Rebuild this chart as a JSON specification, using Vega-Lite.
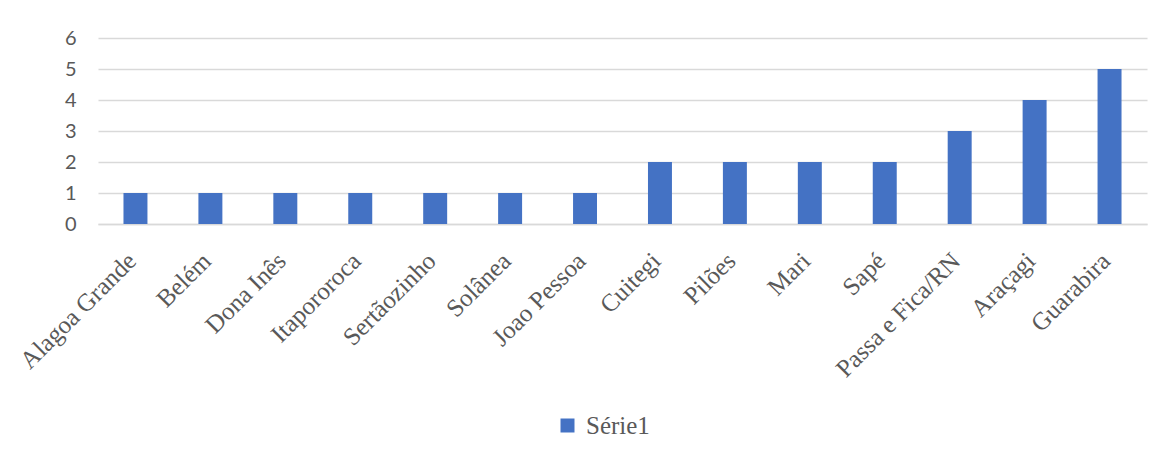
{
  "$schema": "https://vega.github.io/schema/vega-lite/v6.json",
  "width": 1049,
  "height": 186,
  "autosize": {"type": "none"},
  "padding": {"left": 98, "top": 38, "right": 21, "bottom": 233},
  "background": "white",
  "data": {
    "values": [
      {"municipio": "Alagoa Grande", "valor": 1, "serie": "Série1"},
      {"municipio": "Belém", "valor": 1, "serie": "Série1"},
      {"municipio": "Dona Inês", "valor": 1, "serie": "Série1"},
      {"municipio": "Itapororoca", "valor": 1, "serie": "Série1"},
      {"municipio": "Sertãozinho", "valor": 1, "serie": "Série1"},
      {"municipio": "Solânea", "valor": 1, "serie": "Série1"},
      {"municipio": "Joao Pessoa", "valor": 1, "serie": "Série1"},
      {"municipio": "Cuitegi", "valor": 2, "serie": "Série1"},
      {"municipio": "Pilões", "valor": 2, "serie": "Série1"},
      {"municipio": "Mari", "valor": 2, "serie": "Série1"},
      {"municipio": "Sapé", "valor": 2, "serie": "Série1"},
      {"municipio": "Passa e Fica/RN", "valor": 3, "serie": "Série1"},
      {"municipio": "Araçagi", "valor": 4, "serie": "Série1"},
      {"municipio": "Guarabira", "valor": 5, "serie": "Série1"}
    ]
  },
  "mark": {"type": "bar"},
  "encoding": {
    "x": {
      "field": "municipio",
      "type": "nominal",
      "sort": null,
      "title": null,
      "scale": {"paddingInner": 0.68, "paddingOuter": 0.34},
      "axis": {
        "labelAngle": -45,
        "labelFont": "Liberation Serif",
        "labelFontSize": 25,
        "labelColor": "#595959",
        "labelPadding": 24,
        "labelOffset": -12,
        "ticks": false,
        "domainColor": "#d9d9d9",
        "domainWidth": 1.5,
        "grid": false
      }
    },
    "y": {
      "field": "valor",
      "type": "quantitative",
      "title": null,
      "scale": {"domain": [0, 6], "nice": false},
      "axis": {
        "values": [0, 1, 2, 3, 4, 5, 6],
        "labelFont": "Lato",
        "labelFontSize": 20,
        "labelColor": "#595959",
        "labelPadding": 22,
        "ticks": false,
        "domain": false,
        "gridColor": "#d9d9d9",
        "gridWidth": 1.5
      }
    },
    "color": {
      "field": "serie",
      "type": "nominal",
      "scale": {"range": ["#4472C4"]},
      "legend": {
        "title": null,
        "orient": "none",
        "legendX": 457,
        "legendY": 375,
        "padding": 0,
        "symbolType": "square",
        "symbolSize": 196,
        "symbolStrokeWidth": 0,
        "symbolOpacity": 1,
        "labelFont": "Liberation Serif",
        "labelFontSize": 25,
        "labelColor": "#595959",
        "labelOffset": 6
      }
    }
  },
  "config": {"view": {"stroke": null}}
}
